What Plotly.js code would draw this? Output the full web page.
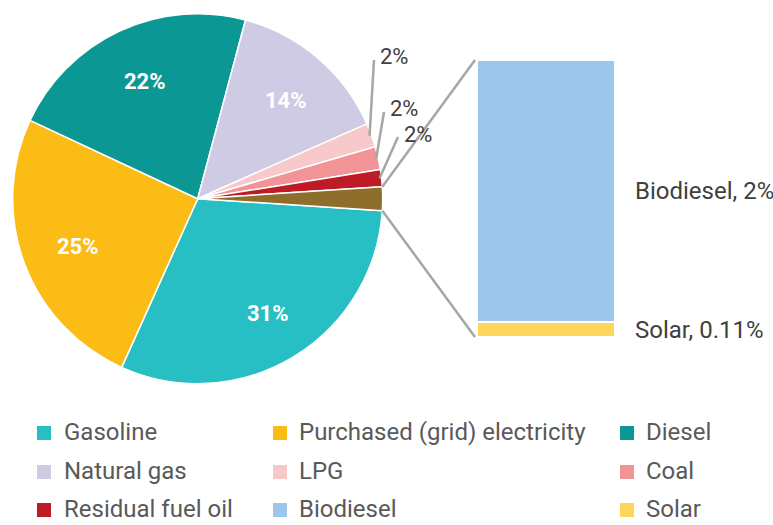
<!DOCTYPE html>
<html><head><meta charset="utf-8">
<script src="https://cdn.plot.ly/plotly-3.0.1.min.js"></script>
<style>html,body{margin:0;padding:0;background:#fff}</style>
</head><body><div id="chart" style="width:773px;height:525px"></div>
<script>
// ---- data ----
const pieLabels = ['Gasoline', 'Purchased (grid) electricity', 'Diesel', 'Natural gas', 'LPG', 'Coal', 'Residual fuel oil'];
const pieValues = [30.7, 25.2, 22.2, 14.2, 2.1, 2.0, 1.5];
const pieColors = ['#27BFC3', '#FBBC15', '#0B9895', '#CFCBE5', '#F8C9CB', '#F29395', '#BD1C27'];
const otherColor = '#8E6E2B';
const barLabels = ['Solar', 'Biodiesel'];
const barValues = [0.11, 1.95];
const barColors = ['#FFD65C', '#9DC7EA'];
const legendLabels = ['Gasoline', 'Purchased (grid) electricity', 'Diesel',
                      'Natural gas', 'LPG', 'Coal',
                      'Residual fuel oil', 'Biodiesel', 'Solar'];
const legendColors = ['#27BFC3', '#FBBC15', '#0B9895',
                      '#CFCBE5', '#F8C9CB', '#F29395',
                      '#BD1C27', '#9DC7EA', '#FFD65C'];

// ---- layout constants (pixels) ----
const W = 773, H = 525;
const CX = 197.7, CY = 198.7, R = 185;
const BAR_L = 477, BAR_R = 615, BAR_T = 60, BAR_B = 337;
const FONT = 'Roboto, "Noto Sans", sans-serif';
const px = x => x / W;
const py = y => 1 - y / H;

const otherValue = barValues.reduce((a, b) => a + b, 0);
const allValues = pieValues.concat([otherValue]);
const allLabels = pieLabels.concat(['Other']);
const allColors = pieColors.concat([otherColor]);
const total = allValues.reduce((a, b) => a + b, 0);
const degPer = 360 / total;
const rotation = 90 + otherValue * degPer / 2;

// slice angles (clockwise from 12 o'clock)
const starts = [];
let acc = rotation;
allValues.forEach(v => { starts.push(acc); acc += v * degPer; });
const ptAt = (deg, rad) => {
  const a = deg * Math.PI / 180;
  return [CX + rad * Math.sin(a), CY - rad * Math.cos(a)];
};

const bigIdx = allValues.map(v => v / total >= 0.05);

const data = [{
  type: 'pie',
  labels: allLabels,
  values: allValues,
  sort: false,
  direction: 'clockwise',
  rotation: rotation,
  marker: {colors: allColors, line: {color: '#ffffff', width: 1.5}},
  textinfo: 'none',
  domain: {x: [px(CX - R), px(CX + R)], y: [py(CY + R), py(CY - R)]},
  showlegend: false,
  hoverinfo: 'label+percent'
}];
barLabels.forEach((lab, i) => {
  data.push({
    type: 'bar', x: [0], y: [barValues[i]], name: lab,
    marker: {color: barColors[i], line: {color: '#ffffff', width: 1.5}},
    width: 1, showlegend: false, hoverinfo: 'name+y',
    xaxis: 'x', yaxis: 'y'
  });
});

const shapes = [];
const annotations = [];

// inside labels for big slices
allLabels.forEach((lab, i) => {
  if (!bigIdx[i]) return;
  const mid = starts[i] + allValues[i] * degPer / 2;
  const p = ptAt(mid, R * 0.71);
  annotations.push({xref: 'paper', yref: 'paper', x: px(p[0] + 3), y: py(p[1] + 2),
    xanchor: 'center', yanchor: 'middle', showarrow: false,
    text: '<b>' + Math.round(allValues[i] / total * 100) + '%</b>',
    font: {family: FONT, size: 22, color: '#ffffff'}});
});

// leader lines + labels for small slices
const leaderTails = [[374, 60], [384, 112], [398, 137]];
let k = 0;
allLabels.forEach((lab, i) => {
  if (bigIdx[i] || lab === 'Other') return;
  const mid = starts[i] + allValues[i] * degPer / 2;
  const head = ptAt(mid, R - 2);
  const tail = leaderTails[k++];
  shapes.push({type: 'line', xref: 'paper', yref: 'paper',
    x0: px(head[0]), y0: py(head[1]), x1: px(tail[0]), y1: py(tail[1]),
    line: {color: '#A6A6A6', width: 2.5}});
  annotations.push({xref: 'paper', yref: 'paper', x: px(tail[0] + 4), y: py(tail[1] - 3),
    xanchor: 'left', yanchor: 'middle', showarrow: false,
    text: Math.round(allValues[i] / total * 100) + '%',
    font: {family: FONT, size: 22, color: '#404040'}});
});

// connectors from "Other" slice to the bar
const otherIdx = allLabels.length - 1;
const pTop = ptAt(starts[otherIdx], R);
const pBot = ptAt(starts[otherIdx] + otherValue * degPer, R);
shapes.push({type: 'line', xref: 'paper', yref: 'paper',
  x0: px(pTop[0]), y0: py(pTop[1]), x1: px(BAR_L - 2), y1: py(BAR_T),
  line: {color: '#A6A6A6', width: 2.5}});
shapes.push({type: 'line', xref: 'paper', yref: 'paper',
  x0: px(pBot[0]), y0: py(pBot[1]), x1: px(BAR_L - 2), y1: py(BAR_B),
  line: {color: '#A6A6A6', width: 2.5}});

// bar labels
let cum = 0;
barLabels.forEach((lab, i) => {
  const v = barValues[i];
  const pct = v >= 1 ? Math.round(v) + '%' : v.toFixed(2) + '%';
  annotations.push({xref: 'paper', yref: 'y', x: px(BAR_R + 18), y: cum + v / 2,
    xanchor: 'left', yanchor: 'middle', showarrow: false,
    text: lab + ', ' + pct,
    font: {family: FONT, size: 24, color: '#404040'}});
  cum += v;
});

// manual legend
const legColMarker = [37, 273, 620];
const legColText = [63, 298, 645];
const legRowY = [432, 471, 509];
const SQ = 14;
legendLabels.forEach((lab, i) => {
  const c = i % 3, r = Math.floor(i / 3);
  const yC = legRowY[r];
  shapes.push({type: 'rect', xref: 'paper', yref: 'paper',
    x0: px(legColMarker[c]), x1: px(legColMarker[c] + SQ),
    y0: py(yC + SQ / 2 + 1), y1: py(yC - SQ / 2 + 1),
    fillcolor: legendColors[i], line: {width: 0}});
  annotations.push({xref: 'paper', yref: 'paper', x: px(legColText[c]), y: py(yC),
    xanchor: 'left', yanchor: 'middle', showarrow: false, text: lab,
    borderpad: 0,
    font: {family: FONT, size: 24, color: '#595959'}});
});

const layout = {
  width: W, height: H,
  margin: {l: 0, r: 0, t: 0, b: 0, pad: 0},
  paper_bgcolor: '#ffffff', plot_bgcolor: 'rgba(0,0,0,0)',
  barmode: 'stack', bargap: 0,
  showlegend: false,
  xaxis: {domain: [px(BAR_L), px(BAR_R)], range: [-0.5, 0.5], visible: false, fixedrange: true},
  yaxis: {domain: [py(BAR_B), py(BAR_T)], range: [0, otherValue], visible: false, fixedrange: true},
  shapes: shapes,
  annotations: annotations,
  font: {family: FONT}
};

Plotly.newPlot('chart', data, layout, {displayModeBar: false, staticPlot: true});
</script>
</body></html>
